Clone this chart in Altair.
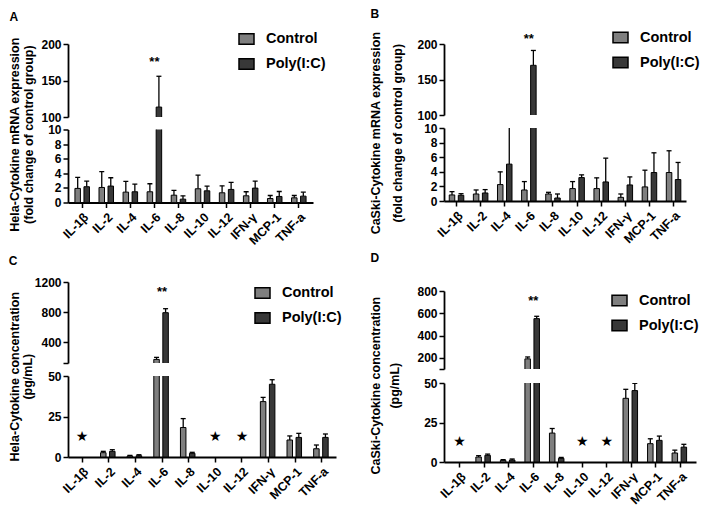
import altair as alt
import pandas as pd

FONT = "Liberation Sans"

categories = ["IL-1β", "IL-2", "IL-4", "IL-6", "IL-8", "IL-10", "IL-12", "IFN-γ", "MCP-1", "TNF-a"]
groups = ["Control", "Poly(I:C)"]
colors = ["#7f7f7f", "#383838"]

# Panel A: Hela mRNA (fold change)
a_ctrl = [1.93, 2.06, 1.42, 1.47, 1.00, 1.88, 1.33, 0.92, 0.55, 0.64]
a_ctrl_sd = [1.51, 2.16, 1.47, 1.10, 0.65, 1.88, 0.96, 0.55, 0.41, 0.32]
a_poly = [2.16, 2.25, 1.47, 113.6, 0.46, 1.60, 1.79, 1.97, 0.83, 0.87]
a_poly_sd = [0.78, 1.14, 1.05, 42.2, 0.46, 0.65, 0.96, 0.97, 0.68, 0.55]

# Panel B: CaSki mRNA (fold change)
b_ctrl = [0.83, 0.96, 2.25, 1.51, 0.96, 1.70, 1.70, 0.50, 1.93, 3.90]
b_ctrl_sd = [0.45, 0.55, 1.74, 1.15, 0.23, 0.96, 1.47, 0.46, 2.29, 2.98]
b_poly = [0.78, 1.10, 5.05, 170.0, 0.41, 3.21, 2.61, 2.20, 3.90, 2.94]
b_poly_sd = [0.22, 0.46, 6.00, 20.9, 0.55, 0.37, 3.26, 1.10, 2.70, 2.34]

# Panel C: Hela concentration (pg/mL); None = not detected
c_ctrl = [None, 2.67, 0.60, 168.0, 18.2, None, None, 34.2, 10.5, 5.1]
c_ctrl_sd = [None, 0.83, 0.40, 27.0, 5.5, None, None, 2.6, 2.5, 2.3]
c_poly = [None, 3.50, 0.80, 791.0, 2.26, None, None, 44.9, 12.1, 12.1]
c_poly_sd = [None, 1.00, 0.60, 53.0, 0.64, None, None, 2.8, 2.5, 2.1]

# Panel D: CaSki concentration (pg/mL); None = not detected
d_ctrl = [None, 3.15, 1.05, 191.0, 18.3, None, None, 40.3, 11.6, 5.7]
d_ctrl_sd = [None, 0.85, 0.45, 17.0, 2.9, None, None, 5.7, 3.1, 1.8]
d_poly = [None, 4.20, 1.26, 552.0, 2.3, None, None, 45.2, 13.7, 9.4]
d_poly_sd = [None, 0.80, 0.64, 21.0, 0.6, None, None, 4.6, 2.7, 1.8]

star_cats = ["IL-1β", "IL-10", "IL-12"]
star_levels = {"C": 12.5, "D": 12.5}
sig_cat = "IL-6"
sig_levels = {"A": 176, "B": 207, "C": 1067, "D": 706}

titles = {
    "A": ["Hela-Cytokine mRNA expression", "(fold change of control group)"],
    "B": ["CaSki-Cytokine mRNA expression", "(fold change of control group)"],
    "C": ["Hela-Cytokine concentration", "(pg/mL)"],
    "D": ["CaSki-Cytokine concentration", "(pg/mL)"],
}


def make_df(ctrl, ctrl_sd, poly, poly_sd):
    rows = []
    for i, c in enumerate(categories):
        for g, vals, sds in ((groups[0], ctrl, ctrl_sd), (groups[1], poly, poly_sd)):
            v = vals[i]
            if v is None:
                continue
            rows.append({"cat": c, "group": g, "value": v, "upper": v + sds[i], "zero": 0.0})
    return pd.DataFrame(rows)


data = {
    "A": make_df(a_ctrl, a_ctrl_sd, a_poly, a_poly_sd),
    "B": make_df(b_ctrl, b_ctrl_sd, b_poly, b_poly_sd),
    "C": make_df(c_ctrl, c_ctrl_sd, c_poly, c_poly_sd),
    "D": make_df(d_ctrl, d_ctrl_sd, d_poly, d_poly_sd),
}

layout = {
    "A": dict(width=245, pi=0.25, po=0.215, top_h=73, bot_h=73, gap=12.5,
              top_dom=[100, 200], top_ticks=[100, 150, 200], hide=None,
              bot_dom=[0, 10], bot_ticks=[0, 2, 4, 6, 8, 10],
              leg=(170, -13.5), toff=5, lh=14, loff=7, tdx=4),
    "B": dict(width=242, pi=0.255, po=0.145, top_h=71, bot_h=73, gap=13,
              top_dom=[100, 200], top_ticks=[100, 150, 200], hide=None,
              bot_dom=[0, 10], bot_ticks=[0, 2, 4, 6, 8, 10],
              leg=(168, -15), toff=12, lh=22, loff=8, tdx=4),
    "C": dict(width=268, pi=0.25, po=0.155, top_h=81, bot_h=81, gap=13,
              top_dom=[120, 1200], top_ticks=[120, 400, 800, 1200], hide=120,
              bot_dom=[0, 50], bot_ticks=[0, 25, 50],
              leg=(186, 2.5), toff=0, lh=13, loff=8, tdx=12),
    "D": dict(width=252, pi=0.18, po=0.227, top_h=78, bot_h=79, gap=14,
              top_dom=[100, 800], top_ticks=[100, 200, 400, 600, 800], hide=100,
              bot_dom=[0, 50], bot_ticks=[0, 25, 50],
              leg=(167, 1), toff=15, lh=19, loff=20, tdx=10),
}
column_spacing = [8, 6]

axis_style = dict(domainColor="black", domainWidth=1.8, tickColor="black", tickWidth=1.5,
                  tickSize=5, labelFont=FONT, labelFontWeight="bold",
                  labelColor="black", grid=False, title=None)


def segment(key, part):
    cfg = layout[key]
    df = data[key]
    is_top = part == "top"
    dom = cfg["top_dom"] if is_top else cfg["bot_dom"]
    ticks = cfg["top_ticks"] if is_top else cfg["bot_ticks"]
    hide = cfg["hide"] if is_top else None
    lab = "datum.label" if hide is None else f"datum.value == {hide} ? '' : datum.label"
    yscale = alt.Scale(domain=dom, nice=False, zero=False)
    yaxis = alt.Axis(values=ticks, labelExpr=lab, format="d", labelPadding=2, labelFontSize=12, **axis_style)
    xscale = alt.Scale(domain=categories, paddingInner=cfg["pi"], paddingOuter=cfg["po"])
    if is_top:
        xaxis = None
    else:
        xaxis = alt.Axis(labelAngle=-45, labelPadding=3, labelFontSize=12.5, **axis_style)
    x = alt.X("cat:N", scale=xscale, axis=xaxis)
    xo = alt.XOffset("group:N", scale=alt.Scale(domain=groups, paddingInner=0, paddingOuter=0))

    if is_top:
        legend = alt.Legend(title=None, orient="none", legendX=cfg["leg"][0], legendY=cfg["leg"][1],
                            symbolType="M-1,-0.7H1V0.7H-1Z", symbolSize=225,
                            symbolStrokeColor="black", symbolStrokeWidth=1.5, symbolOpacity=1,
                            labelFont=FONT, labelFontSize=14.5, labelFontWeight="bold",
                            labelColor="black", labelOffset=11, rowPadding=8, padding=0)
    else:
        legend = None
    color = alt.Color("group:N", scale=alt.Scale(domain=groups, range=colors), legend=legend)

    base = alt.Chart(df)
    bars = base.mark_bar(clip=True, width=5.5, stroke="black", strokeWidth=1, opacity=1).encode(
        x=x, xOffset=xo, y=alt.Y("value:Q", scale=yscale, axis=yaxis), y2="zero:Q", color=color)
    err = base.mark_rule(clip=True, color="black", strokeWidth=1.3).encode(
        x=x, xOffset=xo, y=alt.Y("value:Q", scale=yscale, axis=yaxis), y2="upper:Q")
    cap = base.mark_tick(clip=True, color="black", thickness=1.3, size=5, opacity=1).encode(
        x=x, xOffset=xo, y=alt.Y("upper:Q", scale=yscale, axis=yaxis))
    layers = [err, bars, cap]
    if is_top:
        sig = alt.Chart(pd.DataFrame({"cat": [sig_cat], "v": [sig_levels[key]]})).mark_text(
            text="**", font=FONT, fontSize=13, fontWeight="bold", color="black").encode(
            x=x, y=alt.Y("v:Q", scale=yscale, axis=yaxis))
        layers.append(sig)
    elif key in star_levels:
        st = alt.Chart(pd.DataFrame({"cat": star_cats, "v": [star_levels[key]] * len(star_cats)})).mark_text(
            text="★", font="DejaVu Sans", fontSize=14, color="black").encode(
            x=x, y=alt.Y("v:Q", scale=yscale, axis=yaxis))
        layers.append(st)
    h = cfg["top_h"] if is_top else cfg["bot_h"]
    return alt.layer(*layers).properties(width=cfg["width"], height=h)


def panel(key):
    cfg = layout[key]
    inner = alt.vconcat(segment(key, "top"), segment(key, "bot"), spacing=cfg["gap"], bounds="flush").resolve_scale(
        color="independent", x="independent", y="independent").resolve_legend(color="independent").properties(
        title=alt.TitleParams(titles[key], orient="left", anchor="middle", frame="bounds", font=FONT,
                              fontSize=12.5, fontWeight="bold", color="black", lineHeight=cfg["lh"],
                              offset=cfg["toff"], dx=cfg["tdx"]))
    wrap = alt.vconcat(inner).resolve_scale(color="independent").resolve_legend(color="independent").properties(
        title=alt.TitleParams(key, anchor="start", frame="bounds", font=FONT, fontSize=12,
                              fontWeight="bold", color="black", offset=cfg["loff"]))
    return wrap


col1 = alt.vconcat(panel("A"), panel("C"), spacing=column_spacing[0]).resolve_scale(color="independent").resolve_legend(color="independent")
col2 = alt.vconcat(panel("B"), panel("D"), spacing=column_spacing[1]).resolve_scale(color="independent").resolve_legend(color="independent")
chart = alt.hconcat(col1, col2, spacing=28).resolve_scale(color="independent").resolve_legend(
    color="independent").properties(padding=0).configure_view(stroke=None)

chart.save("out.html", embed_options={"renderer": "svg", "actions": False})
